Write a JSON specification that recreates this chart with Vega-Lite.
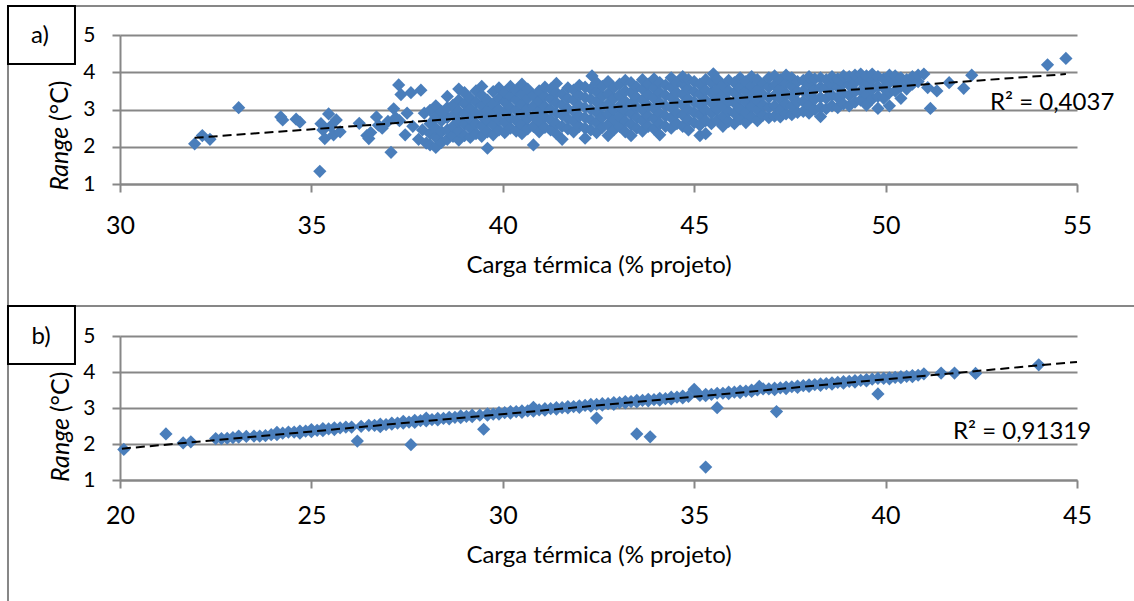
{
  "$schema": "https://vega.github.io/schema/vega-lite/v6.json",
  "autosize": {"type": "pad"},
  "padding": {"left": 6, "top": 5, "right": 0, "bottom": 0},
  "background": "#ffffff",
  "spacing": 152,
  "bounds": "flush",
  "config": {
    "view": {"stroke": null},
    "font": "Lato",
    "text": {"font": "Lato", "color": "#000000"},
    "axis": {
      "domainColor": "#878787", "domainWidth": 2,
      "gridColor": "#878787", "gridWidth": 2,
      "tickColor": "#878787", "tickWidth": 2, "tickSize": 8,
      "labelColor": "#000000", "titleColor": "#000000",
      "labelFont": "Lato", "titleFont": "Lato", "titleFontWeight": "normal",
      "labelOverlap": false, "labelFlush": false
    },
    "axisX": {"labelFontSize": 25, "labelBaseline": "alphabetic", "titleFontSize": 24, "titleBaseline": "alphabetic"},
    "axisY": {"labelFontSize": 21, "labelPadding": 17}
  },
  "datasets": {
    "panelA": [
      {"carga":31.95,"range":2.08},{"carga":32.15,"range":2.3},{"carga":32.35,"range":2.2},{"carga":33.1,"range":3.05},{"carga":34.2,"range":2.8},{"carga":34.25,"range":2.72},{"carga":34.6,"range":2.74},{"carga":34.7,"range":2.66},{"carga":35.22,"range":1.34},{"carga":35.25,"range":2.62},{"carga":35.3,"range":2.45},{"carga":35.35,"range":2.22},{"carga":35.45,"range":2.88},{"carga":35.5,"range":2.55},{"carga":35.58,"range":2.32},{"carga":35.65,"range":2.72},{"carga":35.75,"range":2.4},{"carga":36.25,"range":2.63},{"carga":36.45,"range":2.3},{"carga":36.5,"range":2.22},{"carga":36.55,"range":2.38},{"carga":36.7,"range":2.8},{"carga":36.75,"range":2.58},{"carga":36.85,"range":2.5},{"carga":37.0,"range":2.68},{"carga":37.08,"range":1.85},{"carga":37.15,"range":3.02},{"carga":37.2,"range":2.78},{"carga":37.28,"range":3.66},{"carga":37.3,"range":2.7},{"carga":37.34,"range":3.4},{"carga":37.45,"range":2.32},{"carga":37.5,"range":2.9},{"carga":37.6,"range":3.45},{"carga":37.65,"range":2.55},{"carga":37.8,"range":2.2},{"carga":37.86,"range":3.52},{"carga":37.9,"range":2.45},{"carga":37.95,"range":2.9},{"carga":38.0,"range":2.1},
      {"carga":38.1,"range":2.05},{"carga":38.1,"range":2.35},{"carga":38.1,"range":2.62},{"carga":38.1,"range":2.98},
      {"carga":38.25,"range":1.98},{"carga":38.25,"range":2.25},{"carga":38.25,"range":2.5},{"carga":38.25,"range":2.8},{"carga":38.25,"range":3.1},
      {"carga":38.4,"range":2.12},{"carga":38.4,"range":2.4},{"carga":38.4,"range":2.7},{"carga":38.4,"range":2.95},
      {"carga":38.55,"range":2.2},{"carga":38.55,"range":2.45},{"carga":38.55,"range":2.78},{"carga":38.55,"range":3.05},{"carga":38.55,"range":3.35},
      {"carga":38.7,"range":2.28},{"carga":38.7,"range":2.55},{"carga":38.7,"range":2.85},{"carga":38.7,"range":3.12},
      {"carga":38.85,"range":2.18},{"carga":38.85,"range":2.42},{"carga":38.85,"range":2.68},{"carga":38.85,"range":2.95},{"carga":38.85,"range":3.25},{"carga":38.85,"range":3.55},
      {"carga":39.0,"range":2.3},{"carga":39.0,"range":2.6},{"carga":39.0,"range":2.88},{"carga":39.0,"range":3.15},{"carga":39.0,"range":3.45},
      {"carga":39.15,"range":2.25},{"carga":39.15,"range":2.5},{"carga":39.15,"range":2.75},{"carga":39.15,"range":3.02},{"carga":39.15,"range":3.3},
      {"carga":39.3,"range":2.35},{"carga":39.3,"range":2.62},{"carga":39.3,"range":2.9},{"carga":39.3,"range":3.2},{"carga":39.3,"range":3.5},
      {"carga":39.45,"range":2.28},{"carga":39.45,"range":2.55},{"carga":39.45,"range":2.82},{"carga":39.45,"range":3.1},{"carga":39.45,"range":3.38},{"carga":39.45,"range":3.62},
      {"carga":39.6,"range":1.96},{"carga":39.6,"range":2.4},{"carga":39.6,"range":2.7},{"carga":39.6,"range":2.98},{"carga":39.6,"range":3.25},
      {"carga":39.75,"range":2.32},{"carga":39.75,"range":2.58},{"carga":39.75,"range":2.85},{"carga":39.75,"range":3.15},{"carga":39.75,"range":3.48},
      {"carga":39.9,"range":2.45},{"carga":39.9,"range":2.72},{"carga":39.9,"range":3.0},{"carga":39.9,"range":3.3},{"carga":39.9,"range":3.58},
      {"carga":40.05,"range":2.38},{"carga":40.05,"range":2.65},{"carga":40.05,"range":2.92},{"carga":40.05,"range":3.2},{"carga":40.05,"range":3.45},
      {"carga":40.2,"range":2.5},{"carga":40.2,"range":2.78},{"carga":40.2,"range":3.05},{"carga":40.2,"range":3.35},{"carga":40.2,"range":3.62},
      {"carga":40.35,"range":2.42},{"carga":40.35,"range":2.7},{"carga":40.35,"range":2.98},{"carga":40.35,"range":3.25},{"carga":40.35,"range":3.52},
      {"carga":40.5,"range":2.35},{"carga":40.5,"range":2.6},{"carga":40.5,"range":2.88},{"carga":40.5,"range":3.15},{"carga":40.5,"range":3.42},{"carga":40.5,"range":3.68},
      {"carga":40.65,"range":2.48},{"carga":40.65,"range":2.75},{"carga":40.65,"range":3.02},{"carga":40.65,"range":3.3},{"carga":40.65,"range":3.55},
      {"carga":40.8,"range":2.05},{"carga":40.8,"range":2.55},{"carga":40.8,"range":2.82},{"carga":40.8,"range":3.1},{"carga":40.8,"range":3.38},
      {"carga":40.95,"range":2.4},{"carga":40.95,"range":2.68},{"carga":40.95,"range":2.95},{"carga":40.95,"range":3.22},{"carga":40.95,"range":3.5},
      {"carga":41.1,"range":2.52},{"carga":41.1,"range":2.8},{"carga":41.1,"range":3.08},{"carga":41.1,"range":3.35},{"carga":41.1,"range":3.6},
      {"carga":41.25,"range":2.45},{"carga":41.25,"range":2.72},{"carga":41.25,"range":3.0},{"carga":41.25,"range":3.28},{"carga":41.25,"range":3.55},
      {"carga":41.4,"range":2.35},{"carga":41.4,"range":2.62},{"carga":41.4,"range":2.9},{"carga":41.4,"range":3.18},{"carga":41.4,"range":3.45},{"carga":41.4,"range":3.7},
      {"carga":41.55,"range":2.2},{"carga":41.55,"range":2.55},{"carga":41.55,"range":2.85},{"carga":41.55,"range":3.12},{"carga":41.55,"range":3.4},
      {"carga":41.7,"range":2.48},{"carga":41.7,"range":2.75},{"carga":41.7,"range":3.02},{"carga":41.7,"range":3.3},{"carga":41.7,"range":3.58},
      {"carga":41.85,"range":2.4},{"carga":41.85,"range":2.68},{"carga":41.85,"range":2.95},{"carga":41.85,"range":3.25},{"carga":41.85,"range":3.52},
      {"carga":42.0,"range":2.55},{"carga":42.0,"range":2.82},{"carga":42.0,"range":3.1},{"carga":42.0,"range":3.38},{"carga":42.0,"range":3.65},
      {"carga":42.15,"range":2.23},{"carga":42.15,"range":2.5},{"carga":42.15,"range":2.78},{"carga":42.15,"range":3.05},{"carga":42.15,"range":3.32},{"carga":42.15,"range":3.6},
      {"carga":42.3,"range":2.45},{"carga":42.3,"range":2.72},{"carga":42.3,"range":3.0},{"carga":42.3,"range":3.28},{"carga":42.3,"range":3.55},{"carga":42.33,"range":3.9},
      {"carga":42.45,"range":2.38},{"carga":42.45,"range":2.65},{"carga":42.45,"range":2.92},{"carga":42.45,"range":3.2},{"carga":42.45,"range":3.48},{"carga":42.45,"range":3.72},
      {"carga":42.6,"range":2.52},{"carga":42.6,"range":2.8},{"carga":42.6,"range":3.08},{"carga":42.6,"range":3.35},{"carga":42.6,"range":3.62},
      {"carga":42.75,"range":2.3},{"carga":42.75,"range":2.6},{"carga":42.75,"range":2.88},{"carga":42.75,"range":3.15},{"carga":42.75,"range":3.42},{"carga":42.75,"range":3.75},
      {"carga":42.9,"range":2.45},{"carga":42.9,"range":2.72},{"carga":42.9,"range":3.0},{"carga":42.9,"range":3.3},{"carga":42.9,"range":3.58},
      {"carga":43.05,"range":2.55},{"carga":43.05,"range":2.82},{"carga":43.05,"range":3.1},{"carga":43.05,"range":3.38},{"carga":43.05,"range":3.68},
      {"carga":43.2,"range":2.4},{"carga":43.2,"range":2.68},{"carga":43.2,"range":2.95},{"carga":43.2,"range":3.22},{"carga":43.2,"range":3.5},{"carga":43.2,"range":3.78},
      {"carga":43.35,"range":2.3},{"carga":43.35,"range":2.6},{"carga":43.35,"range":2.88},{"carga":43.35,"range":3.15},{"carga":43.35,"range":3.45},{"carga":43.35,"range":3.72},
      {"carga":43.5,"range":2.5},{"carga":43.5,"range":2.78},{"carga":43.5,"range":3.05},{"carga":43.5,"range":3.32},{"carga":43.5,"range":3.6},
      {"carga":43.65,"range":2.42},{"carga":43.65,"range":2.7},{"carga":43.65,"range":2.98},{"carga":43.65,"range":3.25},{"carga":43.65,"range":3.55},{"carga":43.65,"range":3.8},
      {"carga":43.8,"range":2.55},{"carga":43.8,"range":2.82},{"carga":43.8,"range":3.1},{"carga":43.8,"range":3.4},{"carga":43.8,"range":3.68},
      {"carga":43.95,"range":2.48},{"carga":43.95,"range":2.75},{"carga":43.95,"range":3.02},{"carga":43.95,"range":3.3},{"carga":43.95,"range":3.58},{"carga":43.95,"range":3.82},
      {"carga":44.1,"range":2.32},{"carga":44.1,"range":2.62},{"carga":44.1,"range":2.9},{"carga":44.1,"range":3.18},{"carga":44.1,"range":3.45},{"carga":44.1,"range":3.72},
      {"carga":44.25,"range":2.55},{"carga":44.25,"range":2.82},{"carga":44.25,"range":3.1},{"carga":44.25,"range":3.38},{"carga":44.25,"range":3.65},
      {"carga":44.4,"range":2.5},{"carga":44.4,"range":2.78},{"carga":44.4,"range":3.05},{"carga":44.4,"range":3.32},{"carga":44.4,"range":3.6},{"carga":44.4,"range":3.85},
      {"carga":44.55,"range":2.62},{"carga":44.55,"range":2.9},{"carga":44.55,"range":3.18},{"carga":44.55,"range":3.45},{"carga":44.55,"range":3.72},
      {"carga":44.7,"range":2.55},{"carga":44.7,"range":2.85},{"carga":44.7,"range":3.12},{"carga":44.7,"range":3.4},{"carga":44.7,"range":3.68},{"carga":44.7,"range":3.88},
      {"carga":44.85,"range":2.45},{"carga":44.85,"range":2.72},{"carga":44.85,"range":3.0},{"carga":44.85,"range":3.28},{"carga":44.85,"range":3.55},{"carga":44.85,"range":3.8},
      {"carga":45.0,"range":2.65},{"carga":45.0,"range":2.92},{"carga":45.0,"range":3.2},{"carga":45.0,"range":3.48},{"carga":45.0,"range":3.75},
      {"carga":45.15,"range":2.3},{"carga":45.15,"range":2.58},{"carga":45.15,"range":2.85},{"carga":45.15,"range":3.12},{"carga":45.15,"range":3.4},{"carga":45.15,"range":3.68},
      {"carga":45.3,"range":2.35},{"carga":45.3,"range":2.7},{"carga":45.3,"range":2.98},{"carga":45.3,"range":3.25},{"carga":45.3,"range":3.52},{"carga":45.3,"range":3.8},
      {"carga":45.45,"range":2.62},{"carga":45.45,"range":2.9},{"carga":45.45,"range":3.18},{"carga":45.45,"range":3.45},{"carga":45.45,"range":3.72},{"carga":45.5,"range":3.96},
      {"carga":45.6,"range":2.72},{"carga":45.6,"range":3.0},{"carga":45.6,"range":3.28},{"carga":45.6,"range":3.55},{"carga":45.6,"range":3.82},
      {"carga":45.75,"range":2.55},{"carga":45.75,"range":2.82},{"carga":45.75,"range":3.1},{"carga":45.75,"range":3.38},{"carga":45.75,"range":3.65},
      {"carga":45.9,"range":2.68},{"carga":45.9,"range":2.95},{"carga":45.9,"range":3.22},{"carga":45.9,"range":3.5},{"carga":45.9,"range":3.78},
      {"carga":46.05,"range":2.62},{"carga":46.05,"range":2.9},{"carga":46.05,"range":3.18},{"carga":46.05,"range":3.45},{"carga":46.05,"range":3.72},
      {"carga":46.2,"range":2.75},{"carga":46.2,"range":3.02},{"carga":46.2,"range":3.3},{"carga":46.2,"range":3.58},{"carga":46.2,"range":3.85},
      {"carga":46.35,"range":2.65},{"carga":46.35,"range":2.92},{"carga":46.35,"range":3.2},{"carga":46.35,"range":3.48},{"carga":46.35,"range":3.75},
      {"carga":46.5,"range":2.8},{"carga":46.5,"range":3.08},{"carga":46.5,"range":3.35},{"carga":46.5,"range":3.62},{"carga":46.5,"range":3.88},
      {"carga":46.65,"range":2.7},{"carga":46.65,"range":2.98},{"carga":46.65,"range":3.25},{"carga":46.65,"range":3.52},{"carga":46.65,"range":3.8},
      {"carga":46.8,"range":2.85},{"carga":46.8,"range":3.12},{"carga":46.8,"range":3.4},{"carga":46.8,"range":3.68},
      {"carga":46.95,"range":2.78},{"carga":46.95,"range":3.05},{"carga":46.95,"range":3.32},{"carga":46.95,"range":3.6},{"carga":46.95,"range":3.85},
      {"carga":47.1,"range":2.82},{"carga":47.1,"range":3.1},{"carga":47.1,"range":3.38},{"carga":47.1,"range":3.65},{"carga":47.1,"range":3.9},
      {"carga":47.25,"range":2.8},{"carga":47.25,"range":3.0},{"carga":47.25,"range":3.28},{"carga":47.25,"range":3.55},{"carga":47.25,"range":3.8},
      {"carga":47.4,"range":2.88},{"carga":47.4,"range":3.15},{"carga":47.4,"range":3.42},{"carga":47.4,"range":3.7},{"carga":47.4,"range":3.92},
      {"carga":47.55,"range":2.86},{"carga":47.55,"range":3.08},{"carga":47.55,"range":3.35},{"carga":47.55,"range":3.62},{"carga":47.55,"range":3.85},
      {"carga":47.7,"range":2.92},{"carga":47.7,"range":3.2},{"carga":47.7,"range":3.48},{"carga":47.7,"range":3.75},
      {"carga":47.85,"range":2.95},{"carga":47.85,"range":3.22},{"carga":47.85,"range":3.5},{"carga":47.85,"range":3.78},
      {"carga":48.0,"range":2.9},{"carga":48.0,"range":3.12},{"carga":48.0,"range":3.4},{"carga":48.0,"range":3.68},{"carga":48.0,"range":3.88},
      {"carga":48.15,"range":3.0},{"carga":48.15,"range":3.28},{"carga":48.15,"range":3.55},{"carga":48.15,"range":3.82},
      {"carga":48.3,"range":2.81},{"carga":48.3,"range":3.05},{"carga":48.3,"range":3.32},{"carga":48.3,"range":3.6},{"carga":48.3,"range":3.85},
      {"carga":48.45,"range":3.02},{"carga":48.45,"range":3.3},{"carga":48.45,"range":3.58},{"carga":48.45,"range":3.8},
      {"carga":48.6,"range":3.1},{"carga":48.6,"range":3.38},{"carga":48.6,"range":3.65},{"carga":48.6,"range":3.88},
      {"carga":48.75,"range":3.05},{"carga":48.75,"range":3.32},{"carga":48.75,"range":3.6},{"carga":48.75,"range":3.82},
      {"carga":48.9,"range":3.15},{"carga":48.9,"range":3.42},{"carga":48.9,"range":3.7},{"carga":48.9,"range":3.9},
      {"carga":49.05,"range":3.1},{"carga":49.05,"range":3.38},{"carga":49.05,"range":3.65},{"carga":49.05,"range":3.88},
      {"carga":49.2,"range":3.2},{"carga":49.2,"range":3.48},{"carga":49.2,"range":3.72},{"carga":49.2,"range":3.92},
      {"carga":49.35,"range":3.25},{"carga":49.35,"range":3.5},{"carga":49.35,"range":3.78},{"carga":49.35,"range":3.95},
      {"carga":49.5,"range":3.12},{"carga":49.5,"range":3.4},{"carga":49.5,"range":3.68},{"carga":49.5,"range":3.9},
      {"carga":49.65,"range":3.28},{"carga":49.65,"range":3.55},{"carga":49.65,"range":3.8},{"carga":49.65,"range":3.95},
      {"carga":49.8,"range":3.03},{"carga":49.8,"range":3.35},{"carga":49.8,"range":3.62},{"carga":49.8,"range":3.88},
      {"carga":49.95,"range":3.3},{"carga":49.95,"range":3.58},{"carga":49.95,"range":3.82},
      {"carga":50.1,"range":3.1},{"carga":50.1,"range":3.45},{"carga":50.1,"range":3.72},{"carga":50.1,"range":3.92},
      {"carga":50.25,"range":3.5},{"carga":50.25,"range":3.75},{"carga":50.25,"range":3.9},
      {"carga":50.4,"range":3.3},{"carga":50.4,"range":3.62},{"carga":50.4,"range":3.85},
      {"carga":50.55,"range":3.55},{"carga":50.55,"range":3.8},
      {"carga":50.7,"range":3.68},{"carga":50.7,"range":3.88},
      {"carga":50.85,"range":3.75},{"carga":50.85,"range":3.92},
      {"carga":51.0,"range":3.95},{"carga":51.1,"range":3.59},{"carga":51.17,"range":3.03},{"carga":51.34,"range":3.5},{"carga":51.66,"range":3.72},{"carga":52.04,"range":3.57},{"carga":52.25,"range":3.92},{"carga":54.23,"range":4.2},{"carga":54.71,"range":4.37}
    ],
    "panelB": [
      {"carga":20.1,"range":1.85},{"carga":21.2,"range":2.28},{"carga":21.65,"range":2.03},{"carga":21.85,"range":2.06},{"carga":26.2,"range":2.08},{"carga":27.6,"range":1.98},{"carga":29.5,"range":2.41},{"carga":32.45,"range":2.72},{"carga":33.5,"range":2.28},{"carga":33.85,"range":2.2},{"carga":35.3,"range":1.36},{"carga":35.6,"range":3.01},{"carga":37.15,"range":2.9},{"carga":39.8,"range":3.39},{"carga":41.0,"range":3.95},{"carga":41.45,"range":3.97},{"carga":41.8,"range":3.97},{"carga":42.35,"range":3.96},{"carga":44.0,"range":4.2},{"carga":35.0,"range":3.52},
      {"carga":22.5,"range":2.15},{"carga":22.8,"range":2.16},{"carga":23.1,"range":2.22},{"carga":23.1,"range":2.19},{"carga":23.5,"range":2.22},{"carga":23.8,"range":2.23},{"carga":24.1,"range":2.32},{"carga":24.1,"range":2.26},{"carga":24.4,"range":2.33},{"carga":24.7,"range":2.36},{"carga":24.7,"range":2.3},{"carga":25.0,"range":2.4},{"carga":25.0,"range":2.34},{"carga":25.3,"range":2.37},{"carga":25.3,"range":2.43},{"carga":25.6,"range":2.45},{"carga":25.6,"range":2.4},{"carga":25.9,"range":2.47},
      {"carga":26.5,"range":2.52},{"carga":26.8,"range":2.55},{"carga":26.8,"range":2.48},{"carga":27.1,"range":2.58},{"carga":27.1,"range":2.55},{"carga":27.4,"range":2.63},{"carga":27.4,"range":2.58},{"carga":27.7,"range":2.66},{"carga":27.7,"range":2.6},{"carga":28.0,"range":2.68},{"carga":28.0,"range":2.64},{"carga":28.0,"range":2.72},{"carga":28.3,"range":2.71},{"carga":28.3,"range":2.67},{"carga":28.6,"range":2.74},{"carga":28.6,"range":2.7},{"carga":28.9,"range":2.78},{"carga":28.9,"range":2.73},{"carga":29.2,"range":2.8},{"carga":29.2,"range":2.76},{"carga":29.6,"range":2.84},{"carga":29.6,"range":2.8},{"carga":29.9,"range":2.87},{"carga":29.9,"range":2.83},
      {"carga":30.2,"range":2.9},{"carga":30.2,"range":2.86},{"carga":30.5,"range":2.92},{"carga":30.5,"range":2.88},{"carga":30.8,"range":2.95},{"carga":30.8,"range":2.91},{"carga":30.8,"range":3.02},{"carga":31.1,"range":2.98},{"carga":31.1,"range":2.94},{"carga":31.4,"range":3.01},{"carga":31.4,"range":2.97},{"carga":31.7,"range":3.04},{"carga":31.7,"range":3.0},{"carga":32.0,"range":3.06},{"carga":32.0,"range":3.02},{"carga":32.3,"range":3.1},{"carga":32.3,"range":3.05},{"carga":32.6,"range":3.12},{"carga":32.6,"range":3.08},{"carga":32.9,"range":3.15},{"carga":32.9,"range":3.1},
      {"carga":33.2,"range":3.18},{"carga":33.2,"range":3.14},{"carga":33.5,"range":3.21},{"carga":33.5,"range":3.17},{"carga":33.8,"range":3.24},{"carga":33.8,"range":3.2},{"carga":34.1,"range":3.27},{"carga":34.1,"range":3.22},{"carga":34.4,"range":3.3},{"carga":34.4,"range":3.25},{"carga":34.7,"range":3.33},{"carga":34.7,"range":3.28},{"carga":35.3,"range":3.38},{"carga":35.3,"range":3.34},{"carga":35.6,"range":3.41},{"carga":35.9,"range":3.44},{"carga":35.9,"range":3.4},
      {"carga":36.2,"range":3.47},{"carga":36.2,"range":3.43},{"carga":36.5,"range":3.5},{"carga":36.5,"range":3.46},{"carga":36.8,"range":3.53},{"carga":36.7,"range":3.6},{"carga":37.1,"range":3.55},{"carga":37.1,"range":3.51},{"carga":37.4,"range":3.58},{"carga":37.4,"range":3.54},{"carga":37.7,"range":3.61},{"carga":37.7,"range":3.57},{"carga":38.0,"range":3.64},{"carga":38.0,"range":3.6},{"carga":38.3,"range":3.67},{"carga":38.3,"range":3.63},{"carga":38.6,"range":3.7},{"carga":38.6,"range":3.66},{"carga":38.9,"range":3.73},{"carga":38.9,"range":3.69},
      {"carga":39.2,"range":3.76},{"carga":39.2,"range":3.72},{"carga":39.5,"range":3.79},{"carga":39.5,"range":3.75},{"carga":39.8,"range":3.82},{"carga":40.1,"range":3.84},{"carga":40.1,"range":3.81},{"carga":40.4,"range":3.87},{"carga":40.4,"range":3.84},{"carga":40.7,"range":3.9},{"carga":40.7,"range":3.87},
      {"carga":22.65,"range":2.15},{"carga":22.95,"range":2.18},{"carga":23.3,"range":2.21},{"carga":23.65,"range":2.22},{"carga":23.95,"range":2.26},{"carga":24.25,"range":2.3},{"carga":24.55,"range":2.33},{"carga":24.85,"range":2.36},{"carga":25.15,"range":2.38},{"carga":25.45,"range":2.42},{"carga":25.75,"range":2.45},{"carga":26.05,"range":2.47},{"carga":26.3,"range":2.49},{"carga":26.65,"range":2.52},{"carga":26.95,"range":2.54},{"carga":27.25,"range":2.58},{"carga":27.55,"range":2.61},{"carga":27.85,"range":2.65},{"carga":28.15,"range":2.68},{"carga":28.45,"range":2.71},{"carga":28.75,"range":2.74},{"carga":29.05,"range":2.77},{"carga":29.4,"range":2.8},{"carga":29.75,"range":2.83},{"carga":30.05,"range":2.87},{"carga":30.35,"range":2.9},{"carga":30.65,"range":2.92},{"carga":30.95,"range":2.95},{"carga":31.25,"range":2.98},{"carga":31.55,"range":3.01},{"carga":31.85,"range":3.04},{"carga":32.15,"range":3.07},{"carga":32.45,"range":3.1},{"carga":32.75,"range":3.12},{"carga":33.05,"range":3.15},{"carga":33.35,"range":3.18},{"carga":33.65,"range":3.21},{"carga":33.95,"range":3.23},{"carga":34.25,"range":3.26},{"carga":34.55,"range":3.3},{"carga":34.85,"range":3.32},{"carga":35.15,"range":3.35},{"carga":35.45,"range":3.38},{"carga":35.75,"range":3.41},{"carga":36.05,"range":3.44},{"carga":36.35,"range":3.47},{"carga":36.65,"range":3.5},{"carga":36.95,"range":3.53},{"carga":37.25,"range":3.56},{"carga":37.55,"range":3.59},{"carga":37.85,"range":3.62},{"carga":38.15,"range":3.65},{"carga":38.45,"range":3.68},{"carga":38.75,"range":3.71},{"carga":39.05,"range":3.74},{"carga":39.35,"range":3.77},{"carga":39.65,"range":3.8},{"carga":39.95,"range":3.82},{"carga":40.25,"range":3.85},{"carga":40.55,"range":3.88},{"carga":40.85,"range":3.91}
    ],
    "trendA": [{"carga":31.95,"range":2.24},{"carga":54.71,"range":3.95}],
    "trendB": [{"carga":20.05,"range":1.87},{"carga":45.0,"range":4.28}]
  },
  "vconcat": [
    {
      "width": 957,
      "height": 149,
      "layer": [
        {
          "data": {"name": "panelA"},
          "mark": {"type": "point", "shape": "diamond", "filled": true, "size": 175, "color": "#4a7ebb", "opacity": 1, "strokeWidth": 0},
          "encoding": {
            "x": {"field": "carga", "type": "quantitative", "scale": {"domain": [30, 55], "nice": false},
                  "axis": {"title": "Carga térmica (% projeto)", "values": [30, 35, 40, 45, 50, 55], "grid": false, "labelOverlap": false, "labelPadding": 41, "titleY": 88}},
            "y": {"field": "range", "type": "quantitative", "scale": {"domain": [1, 5], "nice": false},
                  "axis": {"title": null, "values": [1, 2, 3, 4, 5], "grid": true, "labelOverlap": false}}
          }
        },
        {
          "data": {"values": [{}]},
          "mark": {"type": "rule", "color": "#878787", "strokeWidth": 2},
          "encoding": {
            "x": {"datum": 27.074, "type": "quantitative", "scale": {"domain": [30, 55], "nice": false},
                  "axis": {"title": "Carga térmica (% projeto)", "values": [30, 35, 40, 45, 50, 55], "grid": false, "labelOverlap": false, "labelPadding": 41, "titleY": 88}},
            "y": {"datum": 5.777, "type": "quantitative", "scale": {"domain": [1, 5], "nice": false},
                  "axis": {"title": null, "values": [1, 2, 3, 4, 5], "grid": true, "labelOverlap": false}},
            "y2": {"datum": -2.265}
          }
        },
        {
          "data": {"values": [{}]},
          "mark": {"type": "rule", "color": "#878787", "strokeWidth": 2},
          "encoding": {
            "x": {"datum": 27.074, "type": "quantitative", "scale": {"domain": [30, 55], "nice": false},
                  "axis": {"title": "Carga térmica (% projeto)", "values": [30, 35, 40, 45, 50, 55], "grid": false, "labelOverlap": false, "labelPadding": 41, "titleY": 88}},
            "x2": {"datum": 56.515},
            "y": {"datum": 5.777, "type": "quantitative", "scale": {"domain": [1, 5], "nice": false},
                  "axis": {"title": null, "values": [1, 2, 3, 4, 5], "grid": true, "labelOverlap": false}}
          }
        },
        {
          "data": {"name": "trendA"},
          "mark": {"type": "line", "color": "#000000", "strokeWidth": 2, "strokeDash": [9, 5]},
          "encoding": {
            "x": {"field": "carga", "type": "quantitative", "scale": {"domain": [30, 55], "nice": false},
                  "axis": {"title": "Carga térmica (% projeto)", "values": [30, 35, 40, 45, 50, 55], "grid": false, "labelOverlap": false, "labelPadding": 41, "titleY": 88}},
            "y": {"field": "range", "type": "quantitative", "scale": {"domain": [1, 5], "nice": false},
                  "axis": {"title": null, "values": [1, 2, 3, 4, 5], "grid": true, "labelOverlap": false}}
          }
        },
        {
          "data": {"values": [{}]},
          "mark": {"type": "text", "text": "R² = 0,4037", "align": "left", "baseline": "alphabetic", "fontSize": 24},
          "encoding": {
            "x": {"datum": 52.727, "type": "quantitative", "scale": {"domain": [30, 55], "nice": false},
                  "axis": {"title": "Carga térmica (% projeto)", "values": [30, 35, 40, 45, 50, 55], "grid": false, "labelOverlap": false, "labelPadding": 41, "titleY": 88}},
            "y": {"datum": 2.99, "type": "quantitative", "scale": {"domain": [1, 5], "nice": false},
                  "axis": {"title": null, "values": [1, 2, 3, 4, 5], "grid": true, "labelOverlap": false}}
          }
        },
        {
          "data": {"values": [{}]},
          "mark": {"type": "text", "text": "Range", "angle": 270, "align": "right", "baseline": "middle", "fontSize": 25, "fontStyle": "italic"},
          "encoding": {
            "x": {"datum": 28.433, "type": "quantitative", "scale": {"domain": [30, 55], "nice": false},
                  "axis": {"title": "Carga térmica (% projeto)", "values": [30, 35, 40, 45, 50, 55], "grid": false, "labelOverlap": false, "labelPadding": 41, "titleY": 88}},
            "y": {"datum": 2.533, "type": "quantitative", "scale": {"domain": [1, 5], "nice": false},
                  "axis": {"title": null, "values": [1, 2, 3, 4, 5], "grid": true, "labelOverlap": false}}
          }
        },
        {
          "data": {"values": [{}]},
          "mark": {"type": "text", "text": "(°C)", "angle": 270, "align": "left", "baseline": "middle", "fontSize": 25, "dx": 6},
          "encoding": {
            "x": {"datum": 28.433, "type": "quantitative", "scale": {"domain": [30, 55], "nice": false},
                  "axis": {"title": "Carga térmica (% projeto)", "values": [30, 35, 40, 45, 50, 55], "grid": false, "labelOverlap": false, "labelPadding": 41, "titleY": 88}},
            "y": {"datum": 2.533, "type": "quantitative", "scale": {"domain": [1, 5], "nice": false},
                  "axis": {"title": null, "values": [1, 2, 3, 4, 5], "grid": true, "labelOverlap": false}}
          }
        },
        {
          "data": {"values": [{}]},
          "mark": {"type": "rect", "fill": "#ffffff", "stroke": "#000000", "strokeWidth": 2},
          "encoding": {
            "x": {"datum": 27.074, "type": "quantitative", "scale": {"domain": [30, 55], "nice": false},
                  "axis": {"title": "Carga térmica (% projeto)", "values": [30, 35, 40, 45, 50, 55], "grid": false, "labelOverlap": false, "labelPadding": 41, "titleY": 88}},
            "x2": {"datum": 28.824},
            "y": {"datum": 5.777, "type": "quantitative", "scale": {"domain": [1, 5], "nice": false},
                  "axis": {"title": null, "values": [1, 2, 3, 4, 5], "grid": true, "labelOverlap": false}},
            "y2": {"datum": 4.223}
          }
        },
        {
          "data": {"values": [{}]},
          "mark": {"type": "text", "text": "a)", "align": "center", "baseline": "middle", "fontSize": 24},
          "encoding": {
            "x": {"datum": 27.91, "type": "quantitative", "scale": {"domain": [30, 55], "nice": false},
                  "axis": {"title": "Carga térmica (% projeto)", "values": [30, 35, 40, 45, 50, 55], "grid": false, "labelOverlap": false, "labelPadding": 41, "titleY": 88}},
            "y": {"datum": 4.973, "type": "quantitative", "scale": {"domain": [1, 5], "nice": false},
                  "axis": {"title": null, "values": [1, 2, 3, 4, 5], "grid": true, "labelOverlap": false}}
          }
        }
      ]
    },
    {
      "width": 957,
      "height": 144,
      "layer": [
        {
          "data": {"name": "panelB"},
          "mark": {"type": "point", "shape": "diamond", "filled": true, "size": 175, "color": "#4a7ebb", "opacity": 1, "strokeWidth": 0},
          "encoding": {
            "x": {"field": "carga", "type": "quantitative", "scale": {"domain": [20, 45], "nice": false},
                  "axis": {"title": "Carga térmica (% projeto)", "values": [20, 25, 30, 35, 40, 45], "grid": false, "labelOverlap": false, "labelPadding": 35, "titleY": 82}},
            "y": {"field": "range", "type": "quantitative", "scale": {"domain": [1, 5], "nice": false},
                  "axis": {"title": null, "values": [1, 2, 3, 4, 5], "grid": true, "labelOverlap": false}}
          }
        },
        {
          "data": {"values": [{}]},
          "mark": {"type": "rule", "color": "#878787", "strokeWidth": 2},
          "encoding": {
            "x": {"datum": 17.074, "type": "quantitative", "scale": {"domain": [20, 45], "nice": false},
                  "axis": {"title": "Carga térmica (% projeto)", "values": [20, 25, 30, 35, 40, 45], "grid": false, "labelOverlap": false, "labelPadding": 35, "titleY": 82}},
            "y": {"datum": 5.833, "type": "quantitative", "scale": {"domain": [1, 5], "nice": false},
                  "axis": {"title": null, "values": [1, 2, 3, 4, 5], "grid": true, "labelOverlap": false}},
            "y2": {"datum": -2.36}
          }
        },
        {
          "data": {"values": [{}]},
          "mark": {"type": "rule", "color": "#878787", "strokeWidth": 2},
          "encoding": {
            "x": {"datum": 17.074, "type": "quantitative", "scale": {"domain": [20, 45], "nice": false},
                  "axis": {"title": "Carga térmica (% projeto)", "values": [20, 25, 30, 35, 40, 45], "grid": false, "labelOverlap": false, "labelPadding": 35, "titleY": 82}},
            "x2": {"datum": 46.515},
            "y": {"datum": 5.833, "type": "quantitative", "scale": {"domain": [1, 5], "nice": false},
                  "axis": {"title": null, "values": [1, 2, 3, 4, 5], "grid": true, "labelOverlap": false}}
          }
        },
        {
          "data": {"name": "trendB"},
          "mark": {"type": "line", "color": "#000000", "strokeWidth": 2, "strokeDash": [9, 5]},
          "encoding": {
            "x": {"field": "carga", "type": "quantitative", "scale": {"domain": [20, 45], "nice": false},
                  "axis": {"title": "Carga térmica (% projeto)", "values": [20, 25, 30, 35, 40, 45], "grid": false, "labelOverlap": false, "labelPadding": 35, "titleY": 82}},
            "y": {"field": "range", "type": "quantitative", "scale": {"domain": [1, 5], "nice": false},
                  "axis": {"title": null, "values": [1, 2, 3, 4, 5], "grid": true, "labelOverlap": false}}
          }
        },
        {
          "data": {"values": [{}]},
          "mark": {"type": "text", "text": "R² = 0,91319", "align": "left", "baseline": "alphabetic", "fontSize": 24},
          "encoding": {
            "x": {"datum": 41.76, "type": "quantitative", "scale": {"domain": [20, 45], "nice": false},
                  "axis": {"title": "Carga térmica (% projeto)", "values": [20, 25, 30, 35, 40, 45], "grid": false, "labelOverlap": false, "labelPadding": 35, "titleY": 82}},
            "y": {"datum": 2.14, "type": "quantitative", "scale": {"domain": [1, 5], "nice": false},
                  "axis": {"title": null, "values": [1, 2, 3, 4, 5], "grid": true, "labelOverlap": false}}
          }
        },
        {
          "data": {"values": [{}]},
          "mark": {"type": "text", "text": "Range", "angle": 270, "align": "right", "baseline": "middle", "fontSize": 25, "fontStyle": "italic"},
          "encoding": {
            "x": {"datum": 18.459, "type": "quantitative", "scale": {"domain": [20, 45], "nice": false},
                  "axis": {"title": "Carga térmica (% projeto)", "values": [20, 25, 30, 35, 40, 45], "grid": false, "labelOverlap": false, "labelPadding": 35, "titleY": 82}},
            "y": {"datum": 2.72, "type": "quantitative", "scale": {"domain": [1, 5], "nice": false},
                  "axis": {"title": null, "values": [1, 2, 3, 4, 5], "grid": true, "labelOverlap": false}}
          }
        },
        {
          "data": {"values": [{}]},
          "mark": {"type": "text", "text": "(°C)", "angle": 270, "align": "left", "baseline": "middle", "fontSize": 25, "dx": 6},
          "encoding": {
            "x": {"datum": 18.459, "type": "quantitative", "scale": {"domain": [20, 45], "nice": false},
                  "axis": {"title": "Carga térmica (% projeto)", "values": [20, 25, 30, 35, 40, 45], "grid": false, "labelOverlap": false, "labelPadding": 35, "titleY": 82}},
            "y": {"datum": 2.72, "type": "quantitative", "scale": {"domain": [1, 5], "nice": false},
                  "axis": {"title": null, "values": [1, 2, 3, 4, 5], "grid": true, "labelOverlap": false}}
          }
        },
        {
          "data": {"values": [{}]},
          "mark": {"type": "rect", "fill": "#ffffff", "stroke": "#000000", "strokeWidth": 2},
          "encoding": {
            "x": {"datum": 17.074, "type": "quantitative", "scale": {"domain": [20, 45], "nice": false},
                  "axis": {"title": "Carga térmica (% projeto)", "values": [20, 25, 30, 35, 40, 45], "grid": false, "labelOverlap": false, "labelPadding": 35, "titleY": 82}},
            "x2": {"datum": 18.824},
            "y": {"datum": 5.833, "type": "quantitative", "scale": {"domain": [1, 5], "nice": false},
                  "axis": {"title": null, "values": [1, 2, 3, 4, 5], "grid": true, "labelOverlap": false}},
            "y2": {"datum": 4.222}
          }
        },
        {
          "data": {"values": [{}]},
          "mark": {"type": "text", "text": "b)", "align": "center", "baseline": "middle", "fontSize": 24},
          "encoding": {
            "x": {"datum": 17.936, "type": "quantitative", "scale": {"domain": [20, 45], "nice": false},
                  "axis": {"title": "Carga térmica (% projeto)", "values": [20, 25, 30, 35, 40, 45], "grid": false, "labelOverlap": false, "labelPadding": 35, "titleY": 82}},
            "y": {"datum": 4.972, "type": "quantitative", "scale": {"domain": [1, 5], "nice": false},
                  "axis": {"title": null, "values": [1, 2, 3, 4, 5], "grid": true, "labelOverlap": false}}
          }
        }
      ]
    }
  ]
}
